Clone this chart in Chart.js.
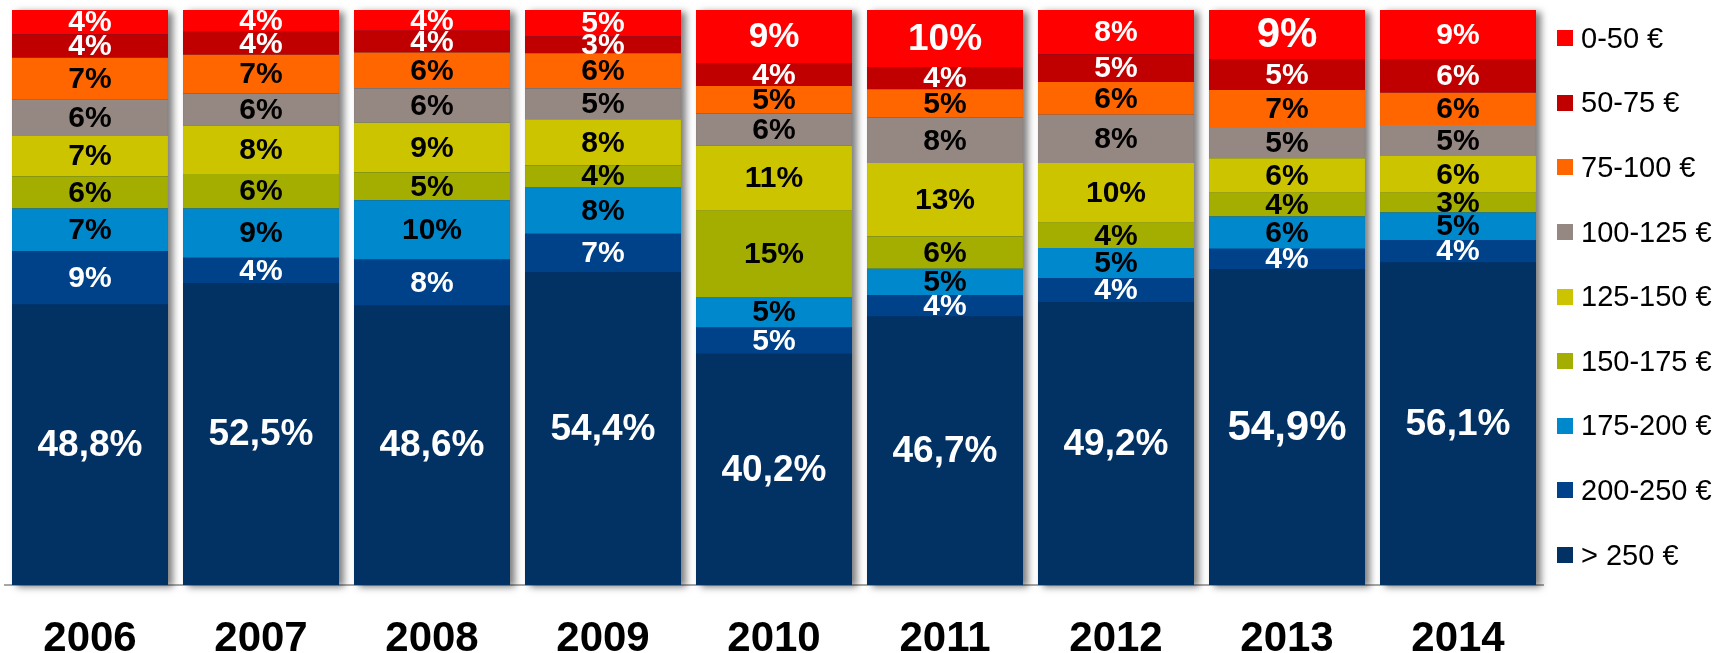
<!DOCTYPE html>
<html>
<head>
<meta charset="utf-8">
<title>Répartition par tranche de prix</title>
<script src="https://cdn.jsdelivr.net/npm/chart.js@4.4.1/dist/chart.umd.min.js"></script>
<style>
  body { margin: 0; background: #fff; }
  #wrap { position: relative; width: 1729px; height: 653px; }
  #legend {
    position: absolute; left: 1557px; top: 6px; margin: 0; padding: 0; list-style: none;
    font-family: "Liberation Sans", Arial, sans-serif; font-size: 29px; color: #000;
  }
  #legend li { display: flex; align-items: center; height: 64.6px; white-space: nowrap; }
  #legend .box { display: inline-block; width: 16px; height: 16px; margin-right: 8px; }
</style>
</head>
<body>
<div id="wrap">
  <canvas id="bar-chart" width="1729" height="653"></canvas>
  <ul id="legend"></ul>
</div>
<script>
// years on the x axis
const years = ["2006", "2007", "2008", "2009", "2010", "2011", "2012", "2013", "2014"];

// price bands, bottom of the stack first
const bands = ["> 250 €", "200-250 €", "175-200 €", "150-175 €", "125-150 €", "100-125 €", "75-100 €", "50-75 €", "0-50 €"];

// share of each band (%), one value per year
const over250 = [48.8, 52.5, 48.6, 54.4, 40.2, 46.7, 49.2, 54.9, 56.1];
const b200_250 = [9.3, 4.4, 8.0, 6.7, 4.6, 3.7, 4.2, 3.6, 3.9];
const b175_200 = [7.4, 8.6, 10.3, 8.1, 5.3, 4.6, 5.2, 5.6, 4.8];
const b150_175 = [5.6, 6.0, 4.9, 3.8, 15.0, 5.6, 4.4, 4.1, 3.4];
const b125_150 = [7.0, 8.4, 8.6, 8.0, 11.3, 12.8, 10.4, 6.0, 6.4];
const b100_125 = [6.4, 5.6, 6.0, 5.4, 5.6, 7.9, 8.4, 5.3, 5.4];
const b75_100 = [7.2, 6.7, 6.2, 6.1, 4.8, 4.9, 5.7, 6.6, 5.6];
const b50_75 = [4.1, 4.0, 3.8, 2.9, 4.0, 3.9, 4.8, 5.3, 5.8];
const b0_50 = [4.2, 3.8, 3.6, 4.6, 9.2, 9.9, 7.7, 8.6, 8.6];

const series = [over250, b200_250, b175_200, b150_175, b125_150, b100_125, b75_100, b50_75, b0_50];

// styling
const colors = ["#023164", "#00428a", "#0088cc", "#a4ae00", "#cdc400", "#958782", "#ff6600", "#c00000", "#ff0000"];
const labelColors = ["#fff", "#fff", "#000", "#000", "#000", "#000", "#000", "#fff", "#fff"];
const FONT = '"Liberation Sans", Arial, sans-serif';

function labelSize(ds, i) {
  const top = ds === series.length - 1;
  if (ds === 0) return years[i] === "2013" ? 42 : 37;
  if (top && years[i] === "2013") return 42;
  if (top && years[i] === "2011") return 37;
  if (top && years[i] === "2010") return 35;
  return 30;
}

function labelText(ds, v) {
  if (ds === 0) return v.toFixed(1).replace(".", ",") + "%";
  return Math.round(v) + "%";
}

const barShadow = {
  id: "barShadow",
  beforeDatasetsDraw(chart) {
    const ctx = chart.ctx;
    const first = chart.getDatasetMeta(0);
    const last = chart.getDatasetMeta(series.length - 1);
    first.data.forEach(function (el, i) {
      const top = last.data[i].y;
      const w = el.width;
      ctx.save();
      ctx.shadowColor = "rgba(0,0,0,0.5)";
      ctx.shadowBlur = 7;
      ctx.shadowOffsetX = 5;
      ctx.shadowOffsetY = 2;
      ctx.fillStyle = colors[0];
      ctx.fillRect(el.x - w / 2, top, w, el.base - top);
      ctx.restore();
    });
  },
};

const segmentLabels = {
  id: "segmentLabels",
  afterDatasetsDraw(chart) {
    const ctx = chart.ctx;
    ctx.save();
    ctx.textAlign = "center";
    ctx.textBaseline = "middle";
    chart.data.datasets.forEach(function (dataset, ds) {
      chart.getDatasetMeta(ds).data.forEach(function (el, i) {
        const p = el.getProps(["x", "y", "base"], true);
        ctx.font = "bold " + labelSize(ds, i) + "px " + FONT;
        ctx.fillStyle = labelColors[ds];
        ctx.fillText(labelText(ds, dataset.data[i]), p.x, (p.y + p.base) / 2 + 1);
      });
    });
    ctx.restore();
  },
};

const htmlLegend = {
  id: "htmlLegend",
  afterUpdate(chart) {
    const ul = document.getElementById("legend");
    ul.innerHTML = "";
    chart.data.datasets.slice().reverse().forEach(function (d) {
      const li = document.createElement("li");
      const box = document.createElement("span");
      box.className = "box";
      box.style.background = d.backgroundColor;
      li.appendChild(box);
      li.appendChild(document.createTextNode(d.label));
      ul.appendChild(li);
    });
  },
};

document.addEventListener("DOMContentLoaded", function () {
  new Chart(document.getElementById("bar-chart"), {
    type: "bar",
    data: {
      labels: years,
      datasets: series.map(function (values, k) {
        return {
          label: bands[k],
          data: values,
          backgroundColor: colors[k],
          borderWidth: 0,
          barPercentage: 0.912,
          categoryPercentage: 1,
        };
      }),
    },
    plugins: [barShadow, segmentLabels, htmlLegend],
    options: {
      responsive: false,
      animation: false,
      layout: { padding: { left: 4.5, right: 185.5, top: 10, bottom: 0 } },
      plugins: {
        legend: { display: false },
        tooltip: { enabled: false },
      },
      scales: {
        x: {
          stacked: true,
          grid: { display: false, drawTicks: false },
          border: { display: true, color: "#a6a6a6", width: 2 },
          ticks: {
            color: "#000",
            padding: 29,
            font: { family: FONT, size: 42, weight: "bold" },
          },
          afterFit(scale) {
            scale.height = 68;
          },
        },
        y: {
          stacked: true,
          display: false,
          min: 0,
          max: 100,
        },
      },
    },
  });
});
</script>
</body>
</html>
